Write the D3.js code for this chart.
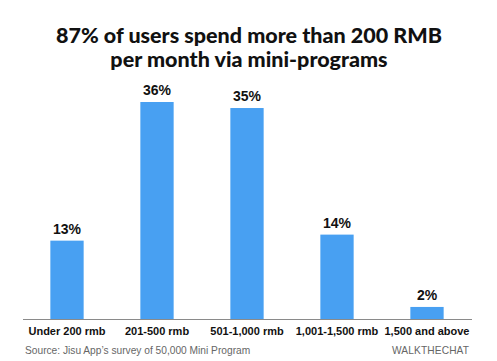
<!DOCTYPE html>
<html><head><meta charset="utf-8">
<script src="https://cdn.jsdelivr.net/npm/d3@7"></script>
<style>html,body{margin:0;padding:0;background:#fff;}</style>
</head><body>
<svg id="c" width="497" height="361"></svg>
<script>
const categories = ["Under 200 rmb","201-500 rmb","501-1,000 rmb","1,001-1,500 rmb","1,500 and above"];
const values = [13, 36, 35, 14, 2];
const titleLines = ["87% of users spend more than 200 RMB","per month via mini-programs"];
const sourceText = "Source: Jisu App\u2019s survey of 50,000 Mini Program";
const brandText = "WALKTHECHAT";

const svg = d3.select("#c");
const x = d3.scaleBand().domain(categories).range([22, 472]).paddingInner(0.63).paddingOuter(0.315);
const y = d3.scaleLinear().domain([0, 36]).range([319, 102]);

svg.selectAll("text.title").data(titleLines).enter().append("text")
  .attr("x", 249).attr("y", (d,i)=>43 + i*24)
  .attr("text-anchor","middle")
  .style("font-family","Lato, 'Noto Sans', sans-serif").style("font-weight","900").style("font-size","21.5px")
  .attr("fill","#111").text(d=>d);

svg.selectAll("rect.bar").data(values).enter().append("rect")
  .attr("x",(d,i)=>x(categories[i])).attr("width",x.bandwidth())
  .attr("y",d=>y(d)).attr("height",d=>y(0)-y(d)).attr("fill","#48a0f2");

svg.selectAll("text.val").data(values).enter().append("text")
  .attr("x",(d,i)=>x(categories[i])+x.bandwidth()/2).attr("y",d=>y(d)-7)
  .attr("text-anchor","middle")
  .style("font-family","'Liberation Sans', Arial, sans-serif").style("font-weight","bold").style("font-size","14px")
  .attr("fill","#111").text(d=>d+"%");

const axis = d3.axisBottom(x).tickSize(0).tickPadding(8);
const g = svg.append("g").attr("transform","translate(0,319)").call(axis);
g.select(".domain").attr("stroke","#8a8a8a").attr("d","M23,0.5H472");
g.selectAll("text").style("font-family","'Liberation Sans', Arial, sans-serif").style("font-weight","bold").style("font-size","11px").attr("fill","#111");

svg.append("text").attr("x",25).attr("y",354)
  .style("font-family","'Liberation Sans', Arial, sans-serif").style("font-size","10.2px").attr("fill","#666").text(sourceText);
svg.append("text").attr("x",392).attr("y",354)
  .attr("textLength",77).attr("lengthAdjust","spacing")
  .style("font-family","'Liberation Sans', Arial, sans-serif").style("font-size","10.2px").attr("fill","#666").text(brandText);
</script>
</body></html>
